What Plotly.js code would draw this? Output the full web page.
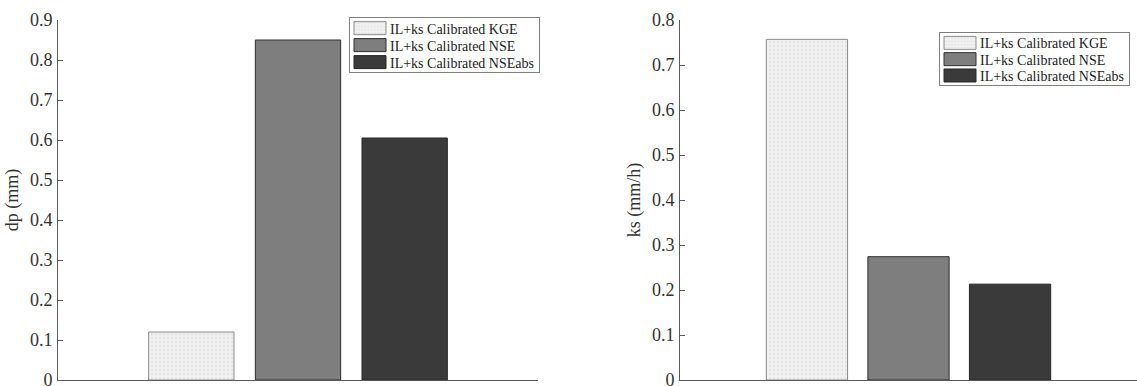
<!DOCTYPE html>
<html>
<head>
<meta charset="utf-8">
<script src="https://cdn.plot.ly/plotly-3.0.1.min.js"></script>
<style>html,body{margin:0;padding:0;background:#fff;}#chart{width:1137px;height:386px;}</style>
</head>
<body>
<div id="chart"></div>
<script>
// ---- data ----
const group = ['IL+ks'];
const seriesNames = ['IL+ks Calibrated KGE', 'IL+ks Calibrated NSE', 'IL+ks Calibrated NSEabs'];
const dpValues = [0.12, 0.85, 0.605];   // dp (mm)
const ksValues = [0.757, 0.274, 0.213]; // ks (mm/h)
const dpTicks = [0, 0.1, 0.2, 0.3, 0.4, 0.5, 0.6, 0.7, 0.8, 0.9];
const ksTicks = [0, 0.1, 0.2, 0.3, 0.4, 0.5, 0.6, 0.7, 0.8];

// ---- styles ----
const fills = ['#efefef', '#7e7e7e', '#3a3a3a'];
const outlines = ['#8a8a8a', '#2e2e2e', '#262626'];
const patterns = [
  {shape: '.', fgcolor: '#dcdcdc', bgcolor: '#f0f0f0', size: 4, solidity: 0.15},
  null, null
];
const FONT = '"Liberation Serif", "Times New Roman", serif';
const DARK = '#5a5a5a', LIGHT = '#ababab';

function barMarker(i) {
  const m = {color: fills[i], line: {color: outlines[i], width: 1}};
  if (patterns[i]) m.pattern = patterns[i];
  return m;
}

const traces = [];
seriesNames.forEach((name, i) => {
  traces.push({
    type: 'bar', name: name, x: group, y: [dpValues[i]],
    xaxis: 'x', yaxis: 'y', legend: 'legend',
    marker: barMarker(i), hoverinfo: 'name+y'
  });
});
seriesNames.forEach((name, i) => {
  traces.push({
    type: 'bar', name: name, x: group, y: [ksValues[i]],
    xaxis: 'x2', yaxis: 'y2', legend: 'legend2',
    marker: barMarker(i), hoverinfo: 'name+y'
  });
});

const W = 1137;
const xCommon = {
  type: 'category', range: [-0.675, 0.675], showticklabels: false, ticks: '',
  showline: true, linecolor: DARK, linewidth: 1, mirror: false,
  showgrid: false, zeroline: false, fixedrange: true
};
const yCommon = {
  ticks: 'inside', ticklen: 5, tickcolor: DARK, tickwidth: 1,
  showline: true, linecolor: DARK, linewidth: 1, mirror: false,
  showgrid: false, zeroline: false, automargin: false,
  tickfont: {family: FONT, size: 18, color: '#333'},
  ticklabelstandoff: 1, ticklabeloverflow: 'allow'
};
// mirrored (right / top) frame axes in a lighter grey
const yRight = {
  ticks: 'inside', ticklen: 5, tickcolor: LIGHT, tickwidth: 1,
  showline: true, linecolor: LIGHT, linewidth: 1, side: 'right',
  showticklabels: false, showgrid: false, zeroline: false, automargin: false
};
const xTop = {
  type: 'category', range: [-0.675, 0.675], showticklabels: false, ticks: '',
  showline: true, linecolor: LIGHT, linewidth: 1, side: 'top',
  showgrid: false, zeroline: false, automargin: false
};
const legendCommon = {
  xanchor: 'left', yanchor: 'top', bgcolor: '#ffffff',
  bordercolor: '#808080', borderwidth: 1,
  font: {family: FONT, size: 14, color: '#222'},
  traceorder: 'normal', itemclick: false, itemdoubleclick: false
};
const titleFont = {family: FONT, size: 18, color: '#333'};

const layout = {
  width: W, height: 386,
  margin: {l: 0, r: 0, t: 20, b: 6, pad: 0},
  paper_bgcolor: '#ffffff', plot_bgcolor: '#ffffff',
  barmode: 'group', bargap: 0.1, bargroupgap: 0.2,
  showlegend: true,
  font: {family: FONT, color: '#333'},
  xaxis: Object.assign({}, xCommon, {domain: [58 / W, 538 / W], anchor: 'y'}),
  xaxis2: Object.assign({}, xCommon, {domain: [680 / W, 1], anchor: 'y2'}),
  xaxis3: Object.assign({}, xTop, {overlaying: 'x', anchor: 'y'}),
  xaxis4: Object.assign({}, xTop, {overlaying: 'x2', anchor: 'y2'}),
  yaxis: Object.assign({}, yCommon, {
    domain: [0, 1], anchor: 'x', range: [0, 0.9], tickvals: dpTicks,
    title: {text: 'dp (mm)', font: titleFont, standoff: 6}
  }),
  yaxis2: Object.assign({}, yCommon, {
    domain: [0, 1.0028], anchor: 'x2', range: [0, 0.8], tickvals: ksTicks,
    title: {text: 'ks (mm/h)', font: titleFont, standoff: 6}
  }),
  yaxis3: Object.assign({}, yRight, {overlaying: 'y', anchor: 'x', range: [0, 0.9], tickvals: dpTicks}),
  yaxis4: Object.assign({}, yRight, {overlaying: 'y2', anchor: 'x2', range: [0, 0.8], tickvals: ksTicks}),
  legend: Object.assign({}, legendCommon, {x: 349 / W, y: 1.008}),
  legend2: Object.assign({}, legendCommon, {x: 939 / W, y: 0.967})
};

// legend look: wide MATLAB-style swatches and tighter rows
const legendRows = {legend: {first: 11, step: 17, height: 55}, legend2: {first: 11, step: 16.3, height: 53}};
function restyleLegends(gd) {
  Object.keys(legendRows).forEach(id => {
    const g = gd.querySelector('g.' + id);
    if (!g) return;
    const cfg = legendRows[id];
    g.querySelectorAll('g.traces').forEach((t, i) => {
      const m = /translate\(([-\d.]+)[ ,]*([-\d.]+)?\)/.exec(t.getAttribute('transform') || '');
      const tx = m ? parseFloat(m[1]) : 0;
      t.setAttribute('transform', 'translate(' + tx + ',' + (cfg.first + i * cfg.step) + ')');
      t.querySelectorAll('.legendpoints path').forEach(p => {
        p.setAttribute('d', 'M16,6.5H-16V-6.5H16Z');
      });
    });
    const bg = g.querySelector('rect.bg');
    if (bg) bg.setAttribute('height', cfg.height);
  });
}

Plotly.newPlot('chart', traces, layout, {displayModeBar: false, staticPlot: true})
  .then(restyleLegends);
</script>
</body>
</html>
